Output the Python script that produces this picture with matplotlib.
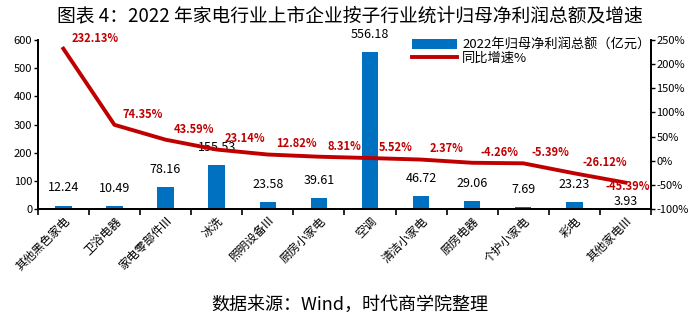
import matplotlib
matplotlib.use("Agg")
import matplotlib.pyplot as plt
import numpy as np

plt.rcParams["font.family"] = ["Noto Sans CJK SC", "DejaVu Sans"]
plt.rcParams["axes.unicode_minus"] = False

categories = ["其他黑色家电", "卫浴电器", "家电零部件III", "冰洗", "照明设备III", "厨房小家电",
              "空调", "清洁小家电", "厨房电器", "个护小家电", "彩电", "其他家电III"]
profit = [12.24, 10.49, 78.16, 155.53, 23.58, 39.61, 556.18, 46.72, 29.06, 7.69, 23.23, 3.93]
growth = [232.13, 74.35, 43.59, 23.14, 12.82, 8.31, 5.52, 2.37, -4.26, -5.39, -26.12, -45.39]

blue = "#0070C0"
red = "#C00000"

fig = plt.figure(figsize=(7, 3.23), dpi=100)
ax = fig.add_axes([0.054, 0.353, 0.876, 0.523])
ax2 = ax.twinx()

x = np.arange(len(categories))
bars = ax.bar(x, profit, width=0.32, color=blue, zorder=2)
for i, (xi, v) in enumerate(zip(x, profit)):
    off = 8 if i < len(x) - 1 else 0
    ax.annotate(f"{v:.2f}", (xi, v), xytext=(0, off), textcoords="offset points",
                ha="center", va="bottom", fontsize=9, color="black", zorder=4)

line, = ax2.plot(x, growth, color=red, linewidth=2.8, zorder=3)
for i, (xi, g) in enumerate(zip(x, growth)):
    if i < len(x) - 1:
        ax2.annotate(f"{g:.2f}%", (xi, g), xytext=(6, 3), textcoords="offset points",
                     ha="left", va="bottom", fontsize=8, color=red, fontweight="bold")
    else:
        # 最后一个点标签放在点的下方，避免冲出坐标轴
        ax2.annotate(f"{g:.2f}%", (xi, g), xytext=(2, -3), textcoords="offset points",
                     ha="center", va="center", fontsize=8, color=red, fontweight="bold")

ax.set_xlim(-0.5, len(x) - 0.5)
ax.set_ylim(0, 600)
ax.set_yticks(range(0, 601, 100))
ax2.set_ylim(-100, 250)
ax2.set_yticks(range(-100, 251, 50))
ax2.set_yticklabels([f"{t}%" for t in range(-100, 251, 50)])

ax.set_xticks(x)
ax.set_xticklabels(categories, rotation=45, ha="right", rotation_mode="anchor", fontsize=8.5)
ax.set_xticks(np.arange(-0.5, len(x), 1), minor=True)
ax.tick_params(axis="x", which="major", length=0, pad=4)
ax.tick_params(axis="x", which="minor", length=4, width=1.2, direction="out")
ax.tick_params(axis="y", labelsize=8, length=3, width=1, pad=1)
ax2.tick_params(axis="y", labelsize=8, length=3, width=1, pad=1)

for a in (ax, ax2):
    a.spines["top"].set_visible(False)
    for s in ("left", "right", "bottom"):
        a.spines[s].set_linewidth(1.3)

ax.set_zorder(ax2.get_zorder() - 1)
ax.patch.set_visible(False)

ax2.legend([bars, line], ["2022年归母净利润总额（亿元）", "同比增速%"],
           loc="upper left", bbox_to_anchor=(0.595, 1.065), frameon=False,
           fontsize=9.5, handlelength=3.4, handleheight=0.8, labelspacing=0.05,
           borderpad=0.2, handletextpad=0.4)

fig.text(0.5, 0.952, "图表 4：2022 年家电行业上市企业按子行业统计归母净利润总额及增速",
         ha="center", va="center", fontsize=13.5)
fig.text(0.5, 0.056, "数据来源：Wind，时代商学院整理", ha="center", va="center", fontsize=13)

fig.savefig("out.png", dpi=100, facecolor="white")
